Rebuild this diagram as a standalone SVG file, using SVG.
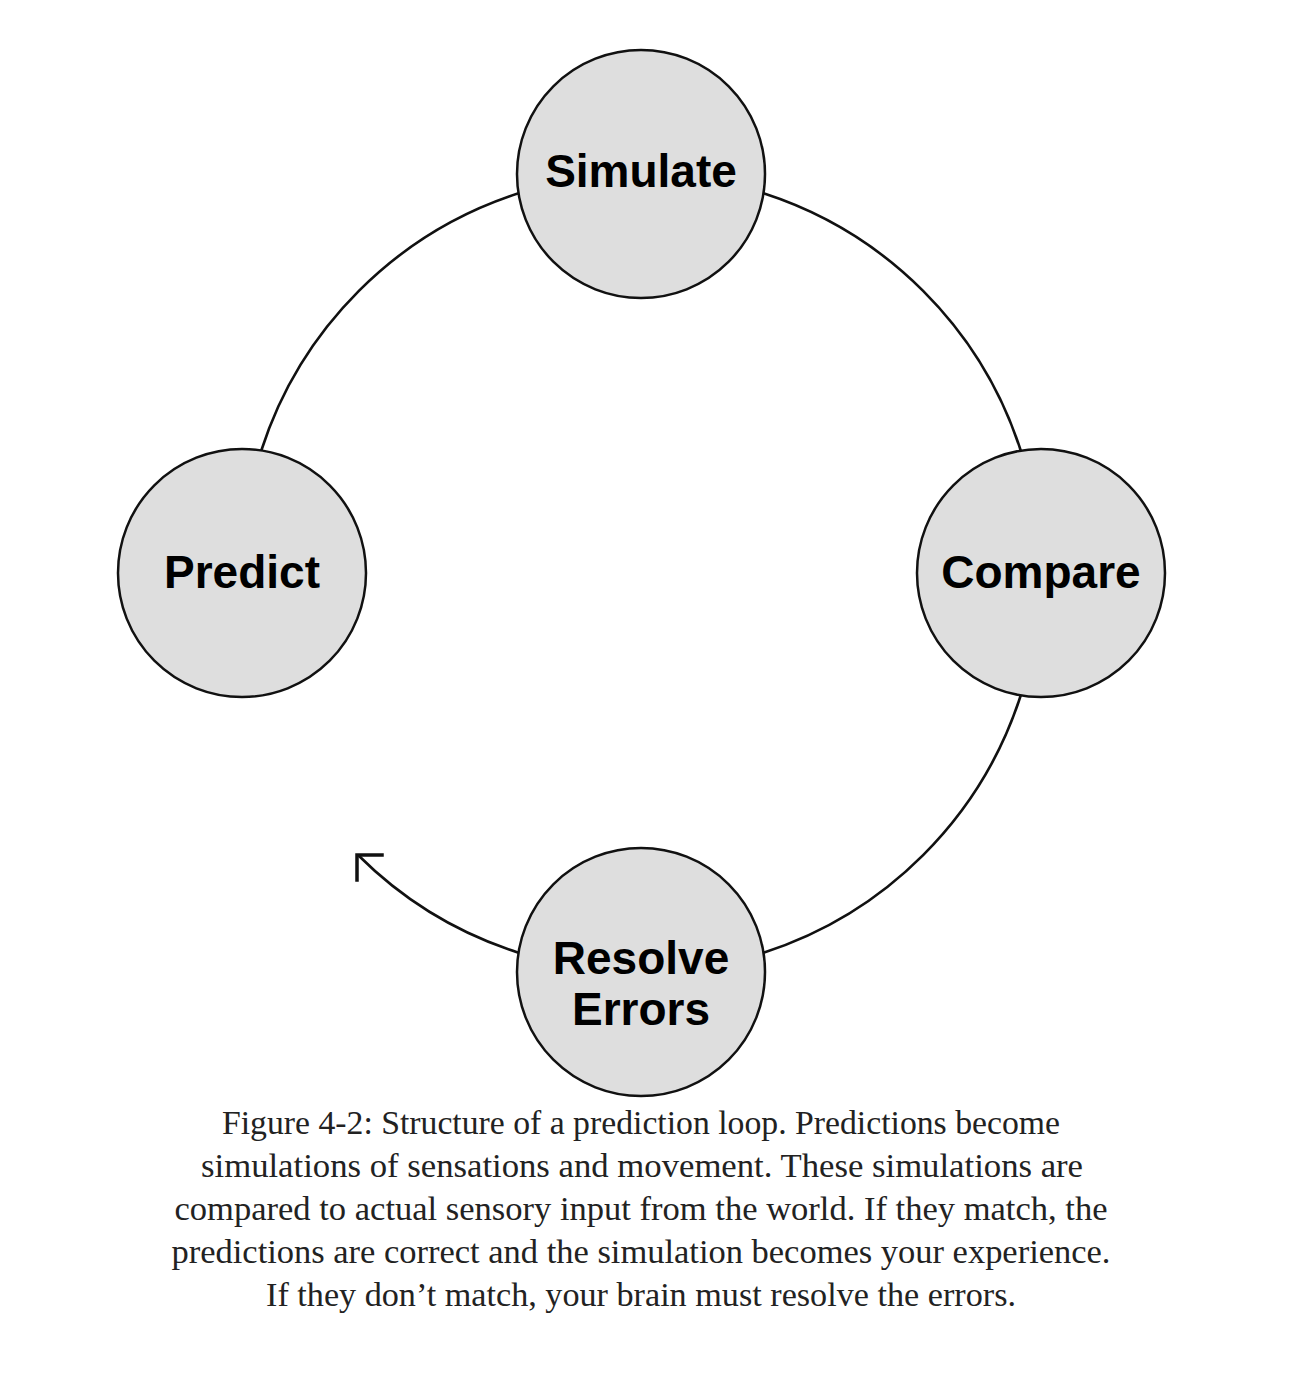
<svg xmlns="http://www.w3.org/2000/svg" width="1314" height="1374" viewBox="0 0 1314 1374">
<style>
.node circle{fill:#dedede;stroke:#111;stroke-width:2.5}
.node text{font-family:"Liberation Sans",Arial,sans-serif;font-weight:bold;font-size:46px;fill:#000;text-anchor:middle}
.conn path{fill:none;stroke:#111;stroke-width:2.6}
.conn .head{stroke-width:3.5;stroke-linecap:square}
.cap{font-family:"Liberation Serif","Times New Roman",serif;font-size:33px;fill:#222;text-anchor:middle}
</style>
<rect width="1314" height="1374" fill="#fff"/>
<g id="connectors" class="conn">
<path d="M261.3 450.5 A399 399 0 0 1 518.5 193.3"/>
<path d="M763.5 193.3 A399 399 0 0 1 1020.7 450.5"/>
<path d="M1020.7 695.5 A399 399 0 0 1 763.5 952.7"/>
<path d="M518.5 952.7 A399 399 0 0 1 358 855"/>
<path class="head" d="M382 855 L357 855 L357 880"/>
</g>
<g id="simulate" class="node"><circle cx="641" cy="174" r="124"/><text x="641" y="187">Simulate</text></g>
<g id="predict" class="node"><circle cx="242" cy="573" r="124"/><text x="242" y="588">Predict</text></g>
<g id="compare" class="node"><circle cx="1041" cy="573" r="124"/><text x="1041" y="588">Compare</text></g>
<g id="resolve" class="node"><circle cx="641" cy="972" r="124"/><text x="641" y="974">Resolve</text><text x="641" y="1025">Errors</text></g>
<g id="caption" class="cap">
<text x="641" y="1134" textLength="838" lengthAdjust="spacingAndGlyphs">Figure 4-2: Structure of a prediction loop. Predictions become</text>
<text x="642" y="1177" textLength="882" lengthAdjust="spacingAndGlyphs">simulations of sensations and movement. These simulations are</text>
<text x="641" y="1220" textLength="933" lengthAdjust="spacingAndGlyphs">compared to actual sensory input from the world. If they match, the</text>
<text x="641" y="1263" textLength="939" lengthAdjust="spacingAndGlyphs">predictions are correct and the simulation becomes your experience.</text>
<text x="641" y="1306" textLength="750" lengthAdjust="spacingAndGlyphs">If they don’t match, your brain must resolve the errors.</text>
</g>
</svg>
